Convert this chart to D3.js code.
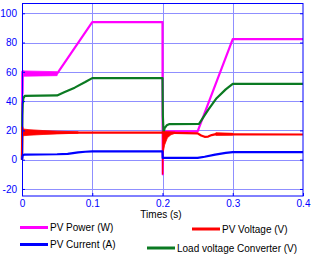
<!DOCTYPE html>
<html><head><meta charset="utf-8">
<script src="https://cdn.jsdelivr.net/npm/d3@7"></script>
<style>html,body{margin:0;padding:0;background:#fff;}svg{display:block;}</style>
</head><body>
<svg id="c" width="313" height="256"></svg>
<script>
// ---- data ----
const xTicks = [0, 0.1, 0.2, 0.3, 0.4];
const xTickLabels = ["0", "0.1", "0.2", "0.3", "0.4"];
const yTicks = [-20, 0, 20, 40, 60, 80, 100];
const yTickLabels = ["-20", "0", "20", "40", "60", "80", "100"];
const xLabel = "Times (s)";

// PV Power (W)
const powerT = [0, 0.0004, 0.0008, 0.0012, 0.002, 0.05, 0.1, 0.2, 0.2003, 0.2008, 0.25, 0.3, 0.4];
const powerV = [0, 60, 45, 60.5, 58.7, 58.7, 94, 94, -10, 19.3, 19.3, 82.3, 82.3];
// ripple envelope of PV Power
const powerBandT = [0.001, 0.05];
const powerBandLo = [57, 57.4];
const powerBandHi = [60.6, 60.1];

// PV Voltage (V)
const voltT = [0, 0.0005, 0.001, 0.05, 0.2, 0.25, 0.255, 0.26, 0.265, 0.27, 0.276, 0.3, 0.4];
const voltV = [0, 22, 18.5, 18.5, 18.5, 18, 16.5, 15.6, 15.8, 16.8, 17.5, 17.3, 17.2];
// ripple envelopes of PV Voltage
const voltBand1T = [0.0005, 0.01, 0.03, 0.05, 0.08];
const voltBand1Lo = [16.3, 16.7, 17.2, 17.6, 18.1];
const voltBand1Hi = [21, 20.5, 19.9, 19.5, 19];
const voltBand2T = [0.2002, 0.2006, 0.203, 0.207, 0.212, 0.218];
const voltBand2Lo = [-10, 4, 10, 15, 17, 18];
const voltBand2Hi = [19, 19, 19, 19, 18.9, 18.8];
const voltBand3T = [0.276, 0.3];
const voltBand3Lo = [16.7, 16.8];
const voltBand3Hi = [18.4, 18];

// PV Current (A)
const currT = [0, 0.001, 0.003, 0.05, 0.065, 0.08, 0.09, 0.1, 0.2, 0.2003, 0.25, 0.26, 0.275, 0.29, 0.3, 0.4];
const currV = [0, 3, 3.4, 3.7, 4.0, 5.0, 5.4, 5.7, 5.7, 1.2, 1.2, 2.0, 3.5, 4.6, 5.2, 5.2];

// Load voltage Converter (V)
const loadT = [0, 0.0005, 0.001, 0.002, 0.004, 0.05, 0.06, 0.075, 0.09, 0.1, 0.2, 0.2005, 0.2015, 0.203, 0.206, 0.21, 0.252, 0.265, 0.277, 0.29, 0.3, 0.4];
const loadV = [0, 30, 38, 42, 43.6, 43.9, 46, 49.2, 53, 55.7, 55.7, 30, 18.3, 21.5, 23.5, 24.3, 24.5, 34, 42, 48, 51.8, 51.8];

const seriesNames = ["PV Power (W)", "PV Voltage (V)", "PV Current (A)", "Load voltage Converter (V)"];
const seriesColors = ["#ff00ff", "#ff0000", "#0000ff", "#0b7a22"];

// ---- chart ----
const svg = d3.select("#c");
const x = d3.scaleLinear().domain([0, 0.4]).range([22, 303]);
const y = d3.scaleLinear().domain([-24.8, 107]).range([196, 3]);
const font = "'Liberation Sans', Arial, sans-serif";
const axisBlue = "#0000ff";

// grid
const g = svg.append("g");
g.selectAll("line.gx").data(xTicks.slice(1, -1)).enter().append("line")
  .attr("x1", d => Math.round(x(d)) + 0.5).attr("x2", d => Math.round(x(d)) + 0.5)
  .attr("y1", y.range()[1]).attr("y2", y.range()[0])
  .attr("stroke", "#8f8fff").attr("stroke-width", 1);
g.selectAll("line.gy").data(yTicks).enter().append("line")
  .attr("y1", d => Math.round(y(d)) + 0.5).attr("y2", d => Math.round(y(d)) + 0.5)
  .attr("x1", x.range()[0]).attr("x2", x.range()[1])
  .attr("stroke", "#8f8fff").attr("stroke-width", 1);

const line = d3.line().x(d => x(d[0])).y(d => y(d[1]));
const area = d3.area().x(d => x(d[0])).y0(d => y(d[1])).y1(d => y(d[2]));
const plot = svg.append("g");
function drawLine(t, v, c) {
  plot.append("path").datum(t.map((ti, i) => [ti, v[i]]))
    .attr("d", line).attr("fill", "none").attr("stroke", c)
    .attr("stroke-width", 2.2).attr("stroke-linejoin", "round");
}
function drawBand(t, lo, hi, c) {
  plot.append("path").datum(t.map((ti, i) => [ti, lo[i], hi[i]]))
    .attr("d", area).attr("fill", c).attr("stroke", c).attr("stroke-width", 0.8);
}
drawLine(powerT, powerV, seriesColors[0]);
drawBand(powerBandT, powerBandLo, powerBandHi, seriesColors[0]);
drawLine(loadT, loadV, seriesColors[3]);
drawLine(voltT, voltV, seriesColors[1]);
drawBand(voltBand1T, voltBand1Lo, voltBand1Hi, seriesColors[1]);
drawBand(voltBand2T, voltBand2Lo, voltBand2Hi, seriesColors[1]);
drawBand(voltBand3T, voltBand3Lo, voltBand3Hi, seriesColors[1]);
drawLine(currT, currV, seriesColors[2]);

// axes (inward ticks, MATLAB style)
const xAxis = d3.axisBottom(x).tickValues(xTicks).tickFormat((d, i) => xTickLabels[i]).tickSize(-3).tickPadding(4);
const ax = svg.append("g").attr("transform", "translate(0,196)").call(xAxis);
const yAxis = d3.axisLeft(y).tickValues(yTicks).tickFormat((d, i) => yTickLabels[i]).tickSize(-3).tickPadding(4);
const ay = svg.append("g").attr("transform", "translate(22,0)").call(yAxis);
const yAxisR = d3.axisRight(y).tickValues(yTicks).tickFormat("").tickSize(-3);
const ayr = svg.append("g").attr("transform", "translate(303,0)").call(yAxisR);
[ax, ay, ayr].forEach(a => {
  a.selectAll("path").remove();
  a.selectAll("line").attr("stroke", axisBlue);
  a.selectAll("text").attr("fill", axisBlue).attr("font-family", font).attr("font-size", 10);
});
ay.selectAll("text").attr("dx", "-0.1em");
// frame
svg.append("rect").attr("x", 22.5).attr("y", 3.5).attr("width", 280.5).attr("height", 192.5)
  .attr("fill", "none").attr("stroke", axisBlue).attr("stroke-width", 1);

// x label
svg.append("text").attr("x", 161).attr("y", 218.3).attr("text-anchor", "middle")
  .attr("font-family", font).attr("font-size", 10).attr("fill", "#000").text(xLabel);

// legend
const legendPos = [
  {lx: 20, ly: 227.5},
  {lx: 192, ly: 229},
  {lx: 20, ly: 244.5},
  {lx: 147, ly: 248}
];
seriesNames.forEach((name, i) => {
  const p = legendPos[i];
  svg.append("line").attr("x1", p.lx).attr("x2", p.lx + 28).attr("y1", p.ly).attr("y2", p.ly)
    .attr("stroke", seriesColors[i]).attr("stroke-width", 3);
  svg.append("text").attr("x", p.lx + 30).attr("y", p.ly + 3.6)
    .attr("font-family", font).attr("font-size", 10).attr("fill", "#000").text(name);
});
</script>
</body></html>
